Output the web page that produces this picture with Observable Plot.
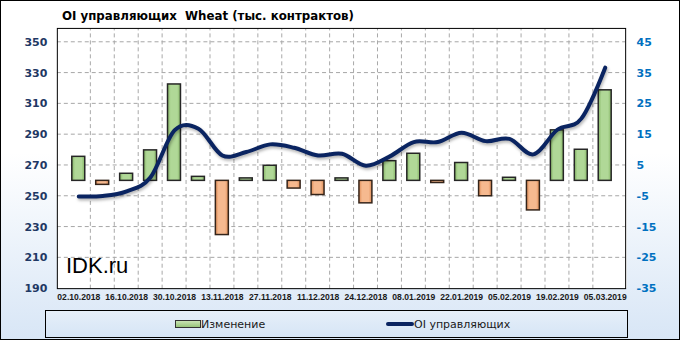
<!DOCTYPE html>
<html>
<head>
<meta charset="utf-8">
<script src="https://cdn.jsdelivr.net/npm/d3@7"></script>
<script src="https://cdn.jsdelivr.net/npm/@observablehq/plot@0.6"></script>
<style>
  html, body { margin: 0; padding: 0; background: #fff; }
  #chart {
    position: relative; width: 678px; height: 338px;
    border: 1px solid #000;
    background: linear-gradient(to bottom, #ffffff 0%, #ffffff 45%, #d8e6f6 100%);
    font-family: "DejaVu Sans", sans-serif; overflow: hidden;
  }
  #plotbg { position: absolute; left: 56px; top: 27px; width: 570px; height: 260px; background: #fff; }
  #title { position: absolute; left: 61px; top: 8px; font: bold 11.8px "DejaVu Sans", sans-serif; color: #000; white-space: nowrap; }
  #plot { position: absolute; left: -1px; top: -1px; }
  #watermark { position: absolute; left: 65px; top: 254px; font: 22px "Liberation Sans", Arial, sans-serif; line-height: 22px; color: #000; }
  #legend {
    position: absolute; left: 44px; top: 309px; width: 581px; height: 26px;
    border: 1px solid #000;
    background: linear-gradient(to bottom, #e6eff9, #d6e5f6);
  }
  .lg-item { position: absolute; top: 0; height: 26px; display: flex; align-items: center; font: 11px "DejaVu Sans", sans-serif; color: #1a1a1a; white-space: nowrap; }
  .sw-bar { width: 24px; height: 6px; border: 1px solid #333; background: linear-gradient(to bottom, #c9e4b4, #98c57a); }
  .sw-line { width: 28px; height: 4px; border-radius: 2px; background: #0a2461; }
</style>
</head>
<body>
<div id="chart">
  <div id="plotbg"></div>
  <div id="plot"></div>
  <div id="title">OI управляющих&nbsp; Wheat (тыс. контрактов)</div>
  <div id="watermark">IDK.ru</div>
  <div id="legend">
    <div class="lg-item" style="left:129px;"><div class="sw-bar"></div><span>Изменение</span></div>
    <div class="lg-item" style="left:340px;"><div class="sw-line"></div><span>OI управляющих</span></div>
  </div>
</div>
<script>
// ---- data ----
const dates = ["02.10.2018","09.10.2018","16.10.2018","23.10.2018","30.10.2018","06.11.2018",
  "13.11.2018","20.11.2018","27.11.2018","04.12.2018","11.12.2018","18.12.2018","24.12.2018",
  "31.12.2018","08.01.2019","15.01.2019","22.01.2019","29.01.2019","05.02.2019","12.02.2019",
  "19.02.2019","26.02.2019","05.03.2019"];
// weekly change (right axis, thousand contracts)
const change = [7.8, -1.3, 2.3, 9.9, 31.3, 1.3, -17.6, 0.8, 4.9, -2.5, -4.6, 0.8, -7.3,
  6.4, 8.8, -0.7, 5.8, -5.0, 1.0, -9.6, 16.4, 10.1, 29.4];
// managed-money open interest (left axis)
const oi = [249.9, 250.2, 253.2, 262.3, 292.8, 293.9, 276.5, 278.7, 283.7, 281.5, 276.5, 277.6,
  269.8, 275.9, 285.2, 285.2, 291.3, 285.8, 287.3, 277.2, 293.2, 300.4, 333.5];
const leftTicks = [190, 210, 230, 250, 270, 290, 310, 330, 350];
const rightTicks = [-35, -25, -15, -5, 5, 15, 25, 35, 45];
const xTickLabels = dates.filter((d, i) => i % 2 === 0);

// right axis maps linearly onto left axis: r -> 260 + 2r
const toLeft = r => 260 + 2 * r;
const data = dates.map((d, i) => ({date: d, change: change[i], oi: oi[i]}));
const hGrid = leftTicks.slice(1).map(v => ({v}));
const vGrid = dates.slice(1).map(d => ({d}));

const W = 681, H = 306, mL = 57, mR = 54, mT = 28, mB = 17;
const step = (W - mL - mR) / dates.length;

const chart = Plot.plot({
  width: W, height: H,
  marginLeft: mL, marginRight: mR, marginTop: mT, marginBottom: mB,
  style: {background: "transparent", fontFamily: "DejaVu Sans, sans-serif"},
  x: {type: "band", domain: dates, padding: 0.46},
  y: {domain: [190, 359]},
  marks: [
    // horizontal dashed grid: thin full-width rects filled with a dash pattern
    Plot.rect(hGrid, {y1: d => d.v - 0.33, y2: d => d.v + 0.33, fill: "url(#dashH)"}),
    // vertical dashed grid at the band boundaries
    Plot.link(vGrid, {x1: "d", x2: "d", y1: () => 190, y2: () => 359, dx: -step / 2,
      stroke: "#a8a8a8", strokeWidth: 1, strokeDasharray: "4 3"}),
    Plot.barY(data.filter(d => d.change >= 0), {
      x: "date", y1: () => 260, y2: d => toLeft(d.change),
      fill: "url(#gGreen)", stroke: "#262626", strokeWidth: 1.5
    }),
    Plot.barY(data.filter(d => d.change < 0), {
      x: "date", y1: () => 260, y2: d => toLeft(d.change),
      fill: "url(#gOrange)", stroke: "#34241a", strokeWidth: 1.5
    }),
    Plot.line(data, {
      x: "date", y: "oi", stroke: "#0a2461", strokeWidth: 4, curve: "cardinal",
      strokeLinecap: "round", strokeLinejoin: "round"
    }),
    Plot.frame({stroke: "#000", strokeWidth: 1}),
    Plot.axisY(leftTicks, {anchor: "left", tickSize: 0, tickPadding: 10, label: null,
      fontSize: 11, fontWeight: "bold", color: "#1f3864"}),
    Plot.axisY(rightTicks.map(toLeft), {anchor: "right", tickSize: 0, tickPadding: 11, label: null,
      tickFormat: d => String((d - 260) / 2), fontSize: 11, fontWeight: "bold", color: "#0070c0"}),
    Plot.axisX(xTickLabels, {anchor: "bottom", tickSize: 0, tickPadding: 5, label: null,
      fontSize: 8.6, fontWeight: "bold", fontFamily: "Liberation Sans, Arial, sans-serif", color: "#1a1a1a"})
  ]
});

// gradients for the bevelled bars and the dash pattern for the grid
const svg = d3.select(chart);
const defs = svg.insert("defs", ":first-child");
function grad(id, edge, mid) {
  const g = defs.append("linearGradient").attr("id", id).attr("x1", 0).attr("x2", 1).attr("y1", 0).attr("y2", 0);
  g.append("stop").attr("offset", "0%").attr("stop-color", edge);
  g.append("stop").attr("offset", "25%").attr("stop-color", mid);
  g.append("stop").attr("offset", "75%").attr("stop-color", mid);
  g.append("stop").attr("offset", "100%").attr("stop-color", edge);
}
grad("gGreen", "#86b566", "#b0d897");
grad("gOrange", "#dd8b55", "#f6b98f");
const pat = defs.append("pattern").attr("id", "dashH").attr("patternUnits", "userSpaceOnUse")
  .attr("x", mL).attr("y", 0).attr("width", 7).attr("height", 8);
pat.append("rect").attr("x", 0).attr("y", 0).attr("width", 4).attr("height", 8).attr("fill", "#a8a8a8");
// soft shadow on the line
svg.selectAll("g[aria-label='line'] path").style("filter", "drop-shadow(1px 2px 1.5px rgba(0,0,0,0.3))");

document.getElementById("plot").appendChild(chart);
</script>
</body>
</html>
